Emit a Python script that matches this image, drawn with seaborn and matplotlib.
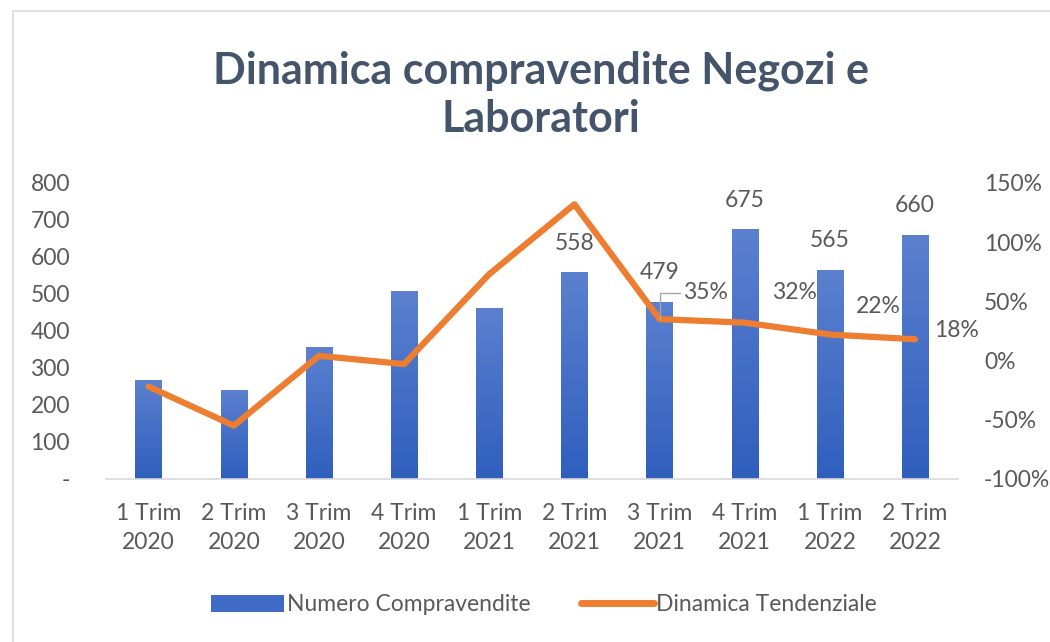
import numpy as np
import pandas as pd
import matplotlib
matplotlib.use("Agg")
import matplotlib.pyplot as plt
import seaborn as sns
from matplotlib.patches import Rectangle, Patch
from matplotlib.lines import Line2D
from matplotlib.ticker import FuncFormatter

quarters = ["1 Trim\n2020", "2 Trim\n2020", "3 Trim\n2020", "4 Trim\n2020", "1 Trim\n2021",
            "2 Trim\n2021", "3 Trim\n2021", "4 Trim\n2021", "1 Trim\n2022", "2 Trim\n2022"]
compravendite = [268, 241, 356, 508, 463, 558, 479, 675, 565, 660]
dinamica = [-22, -55, 4, -3, 73, 132, 35, 32, 22, 18]
bar_labels_from = 5
pct_labels_from = 6

title = "Dinamica compravendite Negozi e\nLaboratori"
serie_barre = "Numero Compravendite"
serie_linea = "Dinamica Tendenziale"

text_col = "#595959"
title_col = "#44546A"
orange = "#ED7D31"
fs = 16.5

sns.set_style("white")
plt.rcParams['font.family'] = ['Lato', 'DejaVu Sans']

fig = plt.figure(figsize=(10.5, 6.42), dpi=100)
ax = fig.add_axes([0.101, 0.254, 0.811, 0.461])

df = pd.DataFrame({"trim": quarters, "n": compravendite})
sns.barplot(data=df, x="trim", y="n", color="#4472C4", width=0.31, ax=ax, saturation=1)

# gradient fill on each bar
grad = np.linspace(0, 1, 100).reshape(-1, 1)
cmap = matplotlib.colors.LinearSegmentedColormap.from_list("g", ["#2F5FBD", "#5B80CF"])
for p in ax.patches:
    x0, y0 = p.get_x(), p.get_y()
    w, h = p.get_width(), p.get_height()
    im = ax.imshow(grad, extent=[x0, x0 + w, y0, y0 + h], origin="lower", cmap=cmap,
                   aspect="auto", zorder=p.get_zorder() + 0.1)
    im.set_clip_path(p)

ax.set_xlim(-0.5, len(quarters) - 0.5)
ax.set_ylim(0, 800)
ax.set_yticks(range(0, 801, 100))
ax.yaxis.set_major_formatter(FuncFormatter(lambda v, _: "-" if v == 0 else f"{int(v)}"))
ax.set_xlabel("")
ax.set_ylabel("")
ax.tick_params(axis="both", colors=text_col, labelsize=fs, length=0)
ax.tick_params(axis="y", pad=26)
ax.tick_params(axis="x", pad=17)
for lbl in ax.get_xticklabels():
    lbl.set_linespacing(1.5)
for s in ["top", "left", "right"]:
    ax.spines[s].set_visible(False)
ax.spines["bottom"].set_color("#D9D9D9")
ax.spines["bottom"].set_linewidth(1.2)

for i in range(bar_labels_from, len(compravendite)):
    ax.annotate(str(compravendite[i]), xy=(i, compravendite[i]), xytext=(0, 21),
                textcoords="offset points", ha="center", va="center",
                fontsize=fs, color=text_col)

ax2 = ax.twinx()
sns.lineplot(x=np.arange(len(dinamica)), y=dinamica, ax=ax2, color=orange,
             linewidth=4.5, solid_joinstyle="round", solid_capstyle="round")
ax2.set_ylim(-100, 150)
ax2.set_yticks(range(-100, 151, 50))
ax2.yaxis.set_major_formatter(FuncFormatter(lambda v, _: f"{int(v)}%"))
ax2.tick_params(axis="y", colors=text_col, labelsize=fs, length=0, pad=19)
for s in ["top", "left", "right", "bottom"]:
    ax2.spines[s].set_visible(False)
ax2.set_ylabel("")

pct_offsets = [(33, 19), (36, 22), (35, 20), (30, 6)]
for k, i in enumerate(range(pct_labels_from, len(dinamica))):
    kw = {}
    if k == 0:
        kw["arrowprops"] = dict(arrowstyle="-", color="#A6A6A6", lw=1,
                                connectionstyle="angle,angleA=0,angleB=90,rad=0",
                                shrinkA=0, shrinkB=0, relpos=(0, 0.5))
    ax2.annotate(f"{dinamica[i]}%", xy=(i, dinamica[i]), xytext=pct_offsets[k],
                 textcoords="offset points", ha="center", va="center",
                 fontsize=fs, color=text_col, **kw)

fig.text(0.515, 0.852, title, ha="center", va="center", fontsize=31,
         fontweight="bold", color=title_col, linespacing=1.25)

handles = [Patch(facecolor="#3F6AC6", edgecolor="none"),
           Line2D([0], [0], color=orange, lw=5, solid_capstyle="round")]
fig.legend(handles, [serie_barre, serie_linea], loc="center", bbox_to_anchor=(0.518, 0.058),
           ncol=2, frameon=False, fontsize=fs, labelcolor=text_col, handlelength=3.2,
           handleheight=0.8, handletextpad=0.1, columnspacing=2.2)

fig.patches.append(Rectangle((13 / 1050, -0.05), 1.0, 1.05 - 11 / 642, transform=fig.transFigure,
                             fill=False, edgecolor="#D9D9D9", linewidth=1.2))

fig.savefig("out.png", dpi=100, facecolor="white")
